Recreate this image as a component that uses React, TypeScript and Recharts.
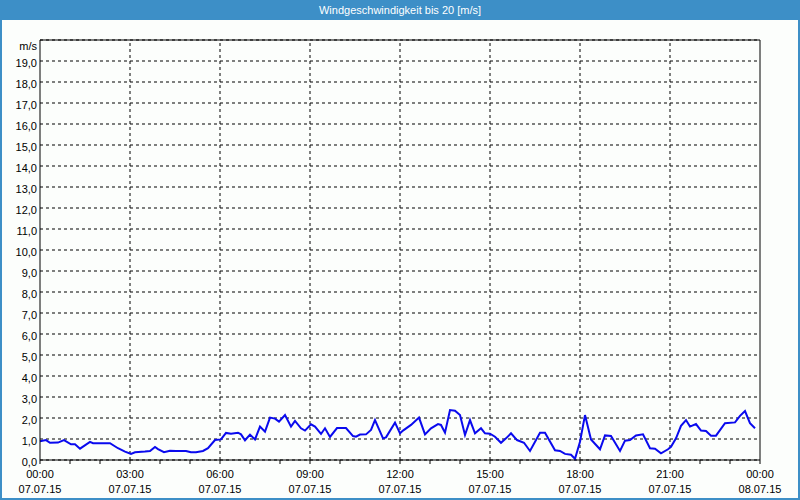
import { LineChart, Line, XAxis, YAxis, CartesianGrid, ReferenceLine } from 'recharts';

// minutes since 07.07.15 00:00
const MINUTES = [
  0, 12, 20, 36, 48, 62, 70, 80, 100, 106, 140, 156, 170, 182, 190, 210, 220, 230, 236, 248,
  260, 272, 292, 302, 312, 326, 336, 350, 362, 372, 382, 396, 402, 410, 420, 430, 440, 450, 460, 470,
  478, 490, 502, 510, 522, 530, 542, 550, 562, 570, 580, 594, 612, 626, 632, 640, 652, 662, 670, 686,
  692, 710, 720, 726, 742, 758, 770, 782, 796, 802, 810, 820, 830, 840, 850, 860, 870, 882, 890, 900,
  910, 922, 932, 942, 954, 968, 980, 1000, 1010, 1030, 1040, 1050, 1062, 1070, 1080, 1090, 1102, 1120, 1130, 1142,
  1160, 1170, 1180, 1192, 1206, 1220, 1230, 1242, 1256, 1262, 1272, 1282, 1292, 1300, 1312, 1322, 1332, 1342, 1352, 1370,
  1390, 1400, 1410, 1420, 1430,
];

// wind speed in m/s
const SPEED = [
  0.89, 0.95, 0.82, 0.83, 0.95, 0.75, 0.75, 0.54, 0.86, 0.8, 0.8, 0.56, 0.4, 0.29, 0.37, 0.4, 0.43, 0.62, 0.52, 0.37,
  0.44, 0.43, 0.43, 0.37, 0.37, 0.43, 0.56, 0.95, 0.98, 1.29, 1.25, 1.3, 1.22, 0.94, 1.21, 0.98, 1.59, 1.35, 2.02, 1.97,
  1.83, 2.14, 1.59, 1.86, 1.51, 1.4, 1.7, 1.59, 1.24, 1.51, 1.1, 1.52, 1.52, 1.14, 1.11, 1.21, 1.22, 1.43, 1.9, 1.03,
  1.08, 1.78, 1.27, 1.4, 1.67, 2.02, 1.22, 1.51, 1.71, 1.67, 1.3, 2.38, 2.35, 2.14, 1.19, 1.9, 1.27, 1.51, 1.27, 1.25,
  1.11, 0.82, 1.03, 1.27, 0.95, 0.82, 0.43, 1.3, 1.3, 0.46, 0.43, 0.29, 0.25, 0.06, 0.87, 2.14, 0.98, 0.51, 1.17, 1.14,
  0.43, 0.92, 0.95, 1.17, 1.22, 0.56, 0.54, 0.32, 0.51, 0.63, 1.03, 1.63, 1.9, 1.59, 1.71, 1.4, 1.38, 1.16, 1.16, 1.75,
  1.79, 2.1, 2.33, 1.75, 1.51,
];

const X_TICKS = Array.from({ length: 25 }, (_, i) => i * 60);
const X_GRID = [180, 360, 540, 720, 900, 1080, 1260];
const Y_TICKS = Array.from({ length: 21 }, (_, i) => i);

const data = MINUTES.map((t, i) => ({ t, v: SPEED[i] }));

const FONT = "'Liberation Sans', Arial, sans-serif";
const FRAME = '#3d8fc7';

function XTick(props: any) {
  const { x, y, payload } = props;
  const v = payload.value as number;
  if (v % 180 !== 0) return <g />;
  const h = String((v / 60) % 24).padStart(2, '0');
  const day = v >= 1440 ? '08.07.15' : '07.07.15';
  return (
    <g>
      <text x={x} y={y + 12} textAnchor="middle" fontSize={11} fontFamily={FONT} fill="#000">
        {h}:00
      </text>
      <text x={x} y={y + 27} textAnchor="middle" fontSize={11} fontFamily={FONT} fill="#000">
        {day}
      </text>
    </g>
  );
}

function YTick(props: any) {
  const { x, y, payload } = props;
  const v = payload.value as number;
  const label = v === 20 ? 'm/s' : v.toFixed(1).replace('.', ',');
  return (
    <text x={x} y={y + (v === 20 ? 10 : 6)} textAnchor="end" fontSize={11} fontFamily={FONT} fill="#000">
      {label}
    </text>
  );
}

export default function App() {
  return (
    <div style={{ position: 'absolute', left: 0, top: 0, width: 800, height: 500, background: '#fcfefc', overflow: 'hidden' }}>
      <div
        style={{
          position: 'absolute', left: 0, top: 0, width: 800, height: 20, background: FRAME,
          color: '#fff', fontFamily: "'Liberation Sans Narrow', 'Liberation Sans', Arial, sans-serif",
          fontSize: 11, fontWeight: 'normal', textAlign: 'center', lineHeight: '20px',
        }}
      >
        Windgeschwindigkeit bis 20 [m/s]
      </div>
      <div style={{ position: 'absolute', left: 0, top: 0 }}>
        <LineChart width={800} height={500} data={data} margin={{ top: 40, right: 40, left: 0, bottom: 0 }}>
          <CartesianGrid vertical={false} stroke="#000" strokeDasharray="3 3" />
          {X_GRID.map((g) => (
            <ReferenceLine key={g} x={g} stroke="#000" strokeDasharray="3 3" />
          ))}
          <ReferenceLine y={20} stroke="#000" />
          <ReferenceLine x={1440} stroke="#000" />
          <XAxis
            dataKey="t"
            type="number"
            domain={[0, 1440]}
            ticks={X_TICKS}
            interval={0}
            height={40}
            stroke="#000"
            tickSize={4}
            tickMargin={2}
            tick={<XTick />}
          />
          <YAxis
            type="number"
            domain={[0, 20]}
            ticks={Y_TICKS}
            interval={0}
            width={40}
            stroke="#000"
            tickLine={false}
            tickSize={0}
            tickMargin={3}
            tick={<YTick />}
          />
          <Line type="linear" dataKey="v" stroke="#0a0aee" strokeWidth={2} dot={false} isAnimationActive={false} />
        </LineChart>
      </div>
      <div
        style={{
          position: 'absolute', left: 0, top: 0, width: 800, height: 500, boxSizing: 'border-box',
          border: `2px solid ${FRAME}`, pointerEvents: 'none',
        }}
      />
    </div>
  );
}
